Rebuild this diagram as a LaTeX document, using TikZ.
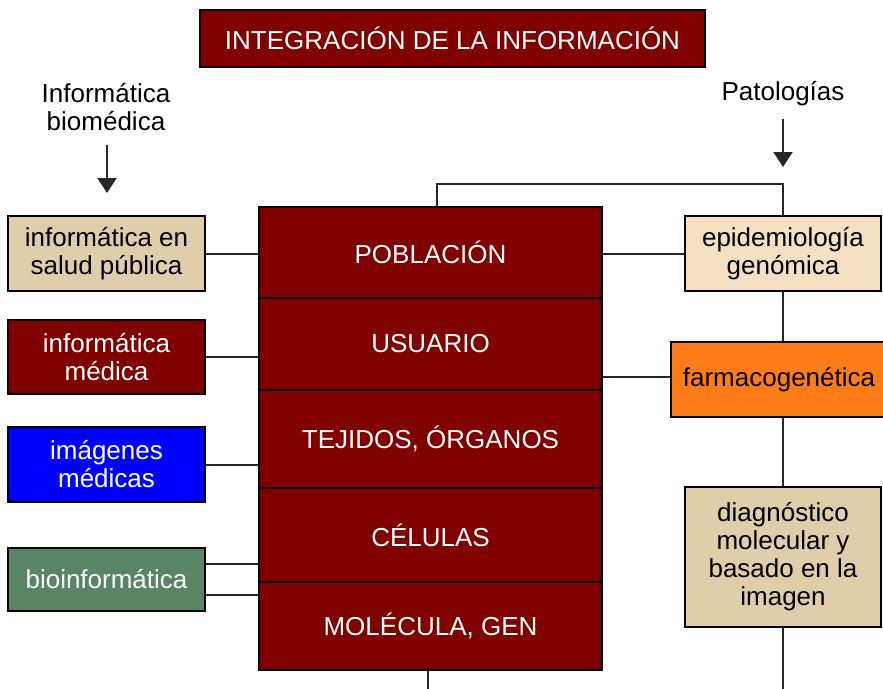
\documentclass[tikz,border=0pt]{standalone}
\usepackage{fontspec}
\setmainfont{Liberation Sans}
\usetikzlibrary{arrows.meta}
\definecolor{dred}{RGB}{128,0,0}
\definecolor{beigeA}{RGB}{224,206,171}
\definecolor{beigeB}{RGB}{245,225,194}
\definecolor{orangeA}{RGB}{255,124,24}
\definecolor{blueA}{RGB}{0,0,255}
\definecolor{greenA}{RGB}{90,132,102}
\tikzset{
  txt/.style={font=\fontsize{26}{28}\selectfont, align=center, inner sep=0pt},
  box/.style={txt, draw=black, line width=2pt, minimum width=197pt},
  sect/.style={txt, draw=black, line width=2pt, fill=dred, text=white, minimum width=343pt},
  link/.style={line width=2pt, draw=black!85},
  arr/.style={line width=2pt, draw=black!85, -{Triangle[length=15pt,width=19pt]}}
}
\begin{document}
\begin{tikzpicture}[x=1pt,y=-1pt]
\useasboundingbox (0,0) rectangle (883,688);
% title
\node[txt, draw=black, line width=2pt, fill=dred, text=white, minimum width=505pt, minimum height=57pt] (title) at (452.5,38.5) {INTEGRACIÓN DE LA INFORMACIÓN};
% side labels
\node[txt] (ib) at (106,107.5) {Informática\\biomédica};
\node[txt] (pat) at (783,94) {Patologías};
\coordinate (ibA) at (107,145);
\coordinate (ibB) at (107,193);
\coordinate (patA) at (783,119);
\coordinate (patB) at (783,167);
\draw[arr] (ibA) -- (ibB);
\draw[arr] (patA) -- (patB);
% central stack
\node[sect, minimum height=91pt] (pob) at (430.5,252.5) {POBLACIÓN};
\node[sect, minimum height=92pt] (usu) at (430.5,344) {USUARIO};
\node[sect, minimum height=98pt] (tej) at (430.5,439) {TEJIDOS, ÓRGANOS};
\node[sect, minimum height=94pt] (cel) at (430.5,535) {CÉLULAS};
\node[sect, minimum height=88pt] (mol) at (430.5,626) {MOLÉCULA, GEN};
% left boxes
\node[box, fill=beigeA, minimum height=75pt] (sp) at (106.5,253.5) {informática en\\salud pública};
\node[box, fill=dred, text=white, minimum height=74pt] (im) at (106.5,357) {informática\\médica};
\node[box, fill=blueA, text=white, minimum height=75pt] (img) at (106.5,464.5) {imágenes\\médicas};
\node[box, fill=greenA, text=white, minimum height=63pt] (bio) at (106.5,579.5) {bioinformática};
% right boxes
\node[box, fill=beigeB, minimum height=75pt, minimum width=196pt] (epi) at (783,253.5) {epidemiología\\genómica};
\node[box, fill=orangeA, minimum height=75pt, minimum width=216pt] (far) at (779,379.5) {farmacogenética};
\node[box, fill=beigeA, minimum height=140pt, minimum width=196pt] (dia) at (783,557) {diagnóstico\\molecular y\\basado en la\\imagen};
% left connectors
\draw[link] (sp.east) -- (sp.east -| pob.west);
\draw[link] (im.east) -- (im.east -| usu.west);
\draw[link] (img.east) -- (img.east -| tej.west);
\draw[link] ([yshift=15.5pt]bio.east) coordinate (b1) -- (b1 -| cel.west);
\draw[link] ([yshift=-15.5pt]bio.east) coordinate (b2) -- (b2 -| mol.west);
% right connectors
\coordinate (topL) at (437,184);
\draw[link] (pob.north -| topL) -- (topL) -| (epi.north);
\draw[link] (epi.west -| pob.east) -- (epi.west);
\coordinate (farY) at (0,377);
\draw[link] (farY -| usu.east) -- (farY -| far.west);
\draw[link] (epi.south) -- (epi.south |- far.north);
\draw[link] (epi.south |- far.south) -- (dia.north);
\coordinate (diaEnd) at (783,690);
\draw[link] (dia.south) -- (diaEnd);
\coordinate (molEnd) at (427.5,690);
\draw[link] (mol.south -| molEnd) -- (molEnd);
\end{tikzpicture}
\end{document}
